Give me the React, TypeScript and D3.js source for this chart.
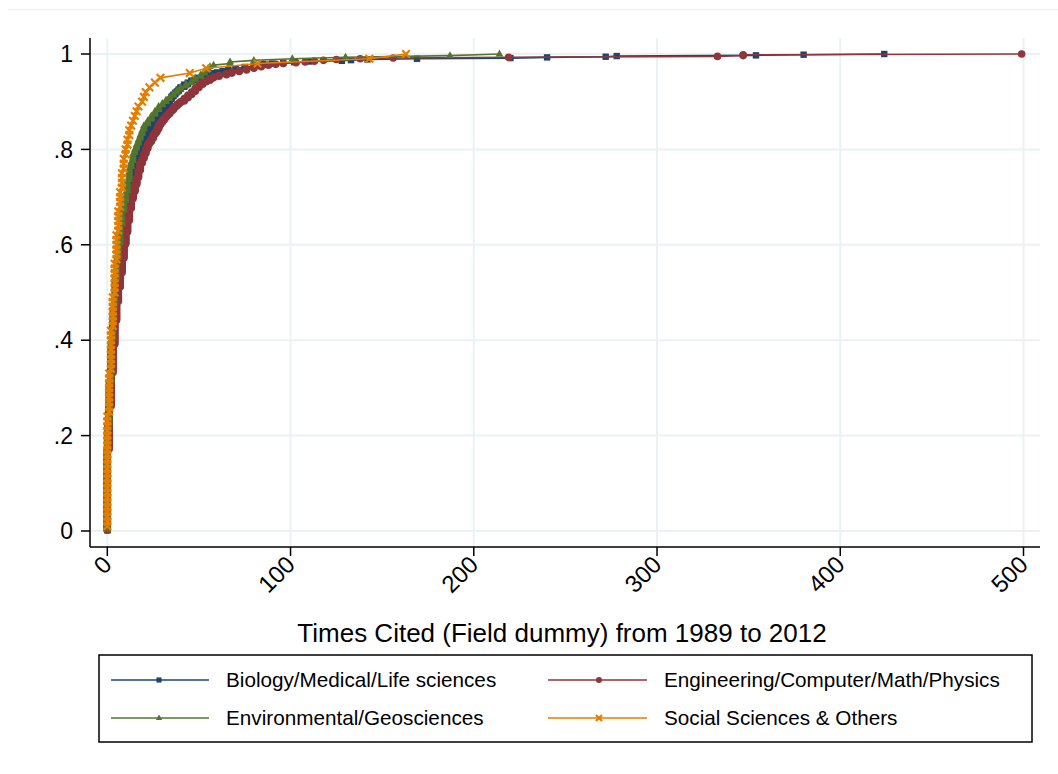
import React from 'react';
import * as d3 from 'd3';

// Frequency tables: times cited -> number of papers
const bioCited = [0,1,2,3,4,5,6,7,8,9,10,11,12,13,14,15,16,17,18,19,20,21,22,23,24,25,26,27,28,29,30,31,32,33,34,35,36,37,38,39,40,42,44,46,48,50,52,54,56,58,60,63,66,70,75,80,85,90,96,102,110,128,133,142,169,220,240,272,278,354,380,424];
const bioPapers = [154,63,49,42,35,28,28,21,21,21,14,14,14,14,11,10,7,7,7,7,7,7,4,7,3,4,3,4,3,4,3,4,4,5,4,4,3,3,2,3,3,4,3,3,2,2,2,2,2,1,1,2,2,2,2,2,2,1,1,1,1,1,1,1,1,1,1,1,1,1,1,1];

const engCited = [0,1,2,3,4,5,6,7,8,9,10,11,12,13,14,15,16,17,18,19,20,21,22,23,24,25,26,27,28,29,30,31,32,33,34,35,36,37,38,39,40,42,44,46,48,50,52,54,56,58,61,65,68,72,76,80,84,88,92,96,103,108,113,118,125,138,156,219,333,347,499];
const engPapers = [102,54,42,36,30,24,18,18,18,18,15,15,15,12,9,9,9,9,9,6,6,6,6,3,4,5,3,4,5,3,3,3,3,2,3,2,3,2,2,2,2,4,4,4,5,4,3,2,3,2,2,2,2,2,2,2,2,1,1,1,1,1,1,1,1,1,1,1,1,2,1];

const envCited = [0,1,2,3,4,5,6,7,8,9,10,11,12,13,14,15,16,17,18,19,20,22,24,26,28,30,32,34,36,38,40,43,46,48,51,53,55,56,58,67,80,101,130,187,214];
const envPapers = [66,27,27,21,18,12,9,12,9,6,6,7,8,4,5,3,3,3,3,3,3,3,3,3,3,2,2,2,2,2,2,2,2,2,2,2,2,1,1,2,1,1,1,1,1];

const socCited = [0,1,2,3,4,5,6,7,8,9,10,11,12,13,14,15,16,17,19,20,21,23,26,29,45,54,82,143,163];
const socPapers = [24,9,9,7,7,6,5,4,4,3,2,2,2,1,1,1,1,1,1,1,1,1,1,1,1,1,1,1,1];

const seriesNames = [
  'Biology/Medical/Life sciences',
  'Engineering/Computer/Math/Physics',
  'Environmental/Geosciences',
  'Social Sciences & Others',
];
const seriesColors = ['#1a476f', '#90353b', '#55752f', '#e37e00'];
const seriesMarkers = ['square', 'circle', 'triangle', 'x'];

const xTicks = [0, 100, 200, 300, 400, 500];
const yTicks = [0, 0.2, 0.4, 0.6, 0.8, 1];
const yTickLabels = ['0', '.2', '.4', '.6', '.8', '1'];
const xTitle = 'Times Cited (Field dummy) from 1989 to 2012';

const FONT = '"Liberation Sans", Arial, Helvetica, sans-serif';

function cumulPoints(cited: number[], papers: number[]) {
  const n = d3.sum(papers);
  const pts: [number, number][] = [];
  let i = 0;
  cited.forEach((v, k) => {
    for (let j = 0; j < papers[k]; j++) {
      i += 1;
      pts.push([v, i / n]);
    }
  });
  return pts;
}

function Marker({ type, x, y, color, s = 1 }: { type: string; x: number; y: number; color: string; s?: number }) {
  if (type === 'square') {
    const h = 3.2 * s;
    return <rect x={x - h} y={y - h} width={2 * h} height={2 * h} fill={color} />;
  }
  if (type === 'circle') return <circle cx={x} cy={y} r={3.8 * s} fill={color} />;
  if (type === 'triangle')
    return (
      <path
        d={`M${x},${y - 4.4 * s}L${x + 3.9 * s},${y + 2.4 * s}L${x - 3.9 * s},${y + 2.4 * s}Z`}
        fill={color}
      />
    );
  const a = 3.8 * s;
  return (
    <path
      d={`M${x - a},${y - a}L${x + a},${y + a}M${x - a},${y + a}L${x + a},${y - a}`}
      stroke={color}
      strokeWidth={2.2}
      fill="none"
    />
  );
}

export default function App() {
  const x = d3.scaleLinear().domain([0, 500]).range([107.3, 1023.5]);
  const y = d3.scaleLinear().domain([0, 1]).range([531, 54]);
  const plotLeft = 90, plotRight = 1040, plotTop = 38, plotBottom = 547;

  const data = [
    cumulPoints(bioCited, bioPapers),
    cumulPoints(engCited, engPapers),
    cumulPoints(envCited, envPapers),
    cumulPoints(socCited, socPapers),
  ];
  const line = d3.line<[number, number]>().x(d => x(d[0])).y(d => y(d[1]));
  const grid = '#eaf2f3';

  const legendRows = [
    { i: 0, lx: 111, rx: 209, mx: 159, tx: 226, ty: 680 },
    { i: 1, lx: 548, rx: 647, mx: 599, tx: 664, ty: 680 },
    { i: 2, lx: 111, rx: 209, mx: 159, tx: 226, ty: 718 },
    { i: 3, lx: 548, rx: 647, mx: 599, tx: 664, ty: 718 },
  ];

  return (
    <svg
      width={1058}
      height={774}
      style={{ position: 'absolute', left: 0, top: 0, background: '#fff' }}
      fontFamily={FONT}
    >
      <rect x={0} y={0} width={1058} height={774} fill="#fff" />
      <line x1={8} x2={1058} y1={9.5} y2={9.5} stroke="#edf2f3" strokeWidth={1.5} />

      {/* gridlines */}
      {yTicks.map(t => (
        <line key={'gy' + t} x1={plotLeft} x2={plotRight} y1={y(t)} y2={y(t)} stroke={grid} strokeWidth={2} />
      ))}
      {xTicks.map(t => (
        <line key={'gx' + t} x1={x(t)} x2={x(t)} y1={plotTop} y2={plotBottom} stroke={grid} strokeWidth={2} />
      ))}

      {/* series */}
      {data.map((pts, si) => (
        <g key={'s' + si}>
          <path d={line(pts) || ''} fill="none" stroke={seriesColors[si]} strokeWidth={1.6} />
          {pts.map((p, k) => (
            <Marker key={k} type={seriesMarkers[si]} x={x(p[0])} y={y(p[1])} color={seriesColors[si]} />
          ))}
        </g>
      ))}

      {/* axes */}
      <line x1={plotLeft} x2={plotLeft} y1={plotTop} y2={plotBottom} stroke="#000" strokeWidth={1.5} />
      <line x1={plotLeft} x2={plotRight} y1={plotBottom} y2={plotBottom} stroke="#000" strokeWidth={1.5} />
      {yTicks.map((t, k) => (
        <g key={'ty' + t}>
          <line x1={plotLeft - 9} x2={plotLeft} y1={y(t)} y2={y(t)} stroke="#000" strokeWidth={1.5} />
          <text x={73} y={y(t)} dy="0.36em" textAnchor="end" fontSize={23} fill="#000">
            {yTickLabels[k]}
          </text>
        </g>
      ))}
      {xTicks.map(t => (
        <g key={'tx' + t}>
          <line x1={x(t)} x2={x(t)} y1={plotBottom} y2={plotBottom + 9} stroke="#000" strokeWidth={1.5} />
          <text
            transform={`translate(${x(t) + 6},${566}) rotate(-45)`}
            textAnchor="end"
            fontSize={24}
            fill="#000"
          >
            {t}
          </text>
        </g>
      ))}
      <text x={562} y={642} textAnchor="middle" fontSize={26} fill="#000">
        {xTitle}
      </text>

      {/* legend */}
      <rect x={99} y={655} width={933} height={87} fill="#fff" stroke="#000" strokeWidth={1.5} />
      {legendRows.map(r => (
        <g key={'lg' + r.i}>
          <line x1={r.lx} x2={r.rx} y1={r.ty} y2={r.ty} stroke={seriesColors[r.i]} strokeWidth={1.3} />
          <Marker type={seriesMarkers[r.i]} x={r.mx} y={r.ty} color={seriesColors[r.i]} s={0.8} />
          <text x={r.tx} y={r.ty} dy="0.36em" fontSize={20.7} fill="#000">
            {seriesNames[r.i]}
          </text>
        </g>
      ))}
    </svg>
  );
}
